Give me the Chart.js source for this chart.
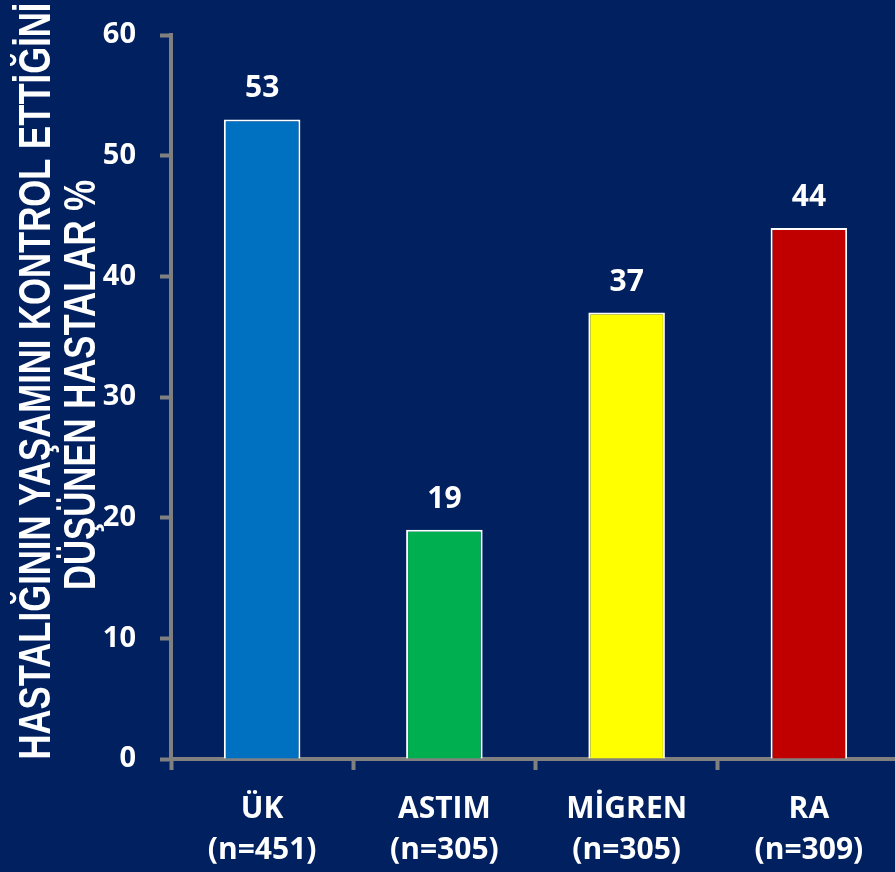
<!DOCTYPE html>
<html>
<head>
<meta charset="utf-8">
<script src="https://cdn.jsdelivr.net/npm/chart.js@4.4.0/dist/chart.umd.min.js"></script>
<style>
  html, body { margin: 0; padding: 0; background: #002060; overflow: hidden; width: 895px; height: 872px; }
  #wrap { position: absolute; left: 0; top: 0; width: 900px; height: 872px; }
</style>
</head>
<body>
<div id="wrap"><canvas id="c" width="900" height="872"></canvas></div>
<script>
const categories = ['ÜK', 'ASTIM', 'MİGREN', 'RA'];
const sampleSizes = ['(n=451)', '(n=305)', '(n=305)', '(n=309)'];
const values = [53, 19, 37, 44];
const barColors = ['#0070C0', '#00B050', '#FFFF00', '#C00000'];
const titleLines = ['HASTALIĞININ YAŞAMINI KONTROL ETTİĞİNİ', 'DÜŞÜNEN HASTALAR %'];

const FONT = "'Open Sans', 'Liberation Sans', sans-serif";
const AXIS_GRAY = '#808080';

const valueLabels = {
  id: 'valueLabels',
  afterDatasetsDraw(chart) {
    const ctx = chart.ctx;
    const meta = chart.getDatasetMeta(0);
    ctx.save();
    ctx.fillStyle = '#FFFFFF';
    ctx.font = "bold 30px " + FONT;
    ctx.textAlign = 'center';
    ctx.textBaseline = 'alphabetic';
    meta.data.forEach((bar, i) => {
      ctx.fillText(String(values[i]), bar.x, bar.y - 22);
    });
    ctx.restore();
  }
};

const yTitle = {
  id: 'yTitle',
  afterDraw(chart) {
    const ctx = chart.ctx;
    const specs = [
      { text: titleLines[0], x: 50, y: 381, len: 757 },
      { text: titleLines[1], x: 95, y: 385, len: 410 }
    ];
    ctx.save();
    ctx.fillStyle = '#FFFFFF';
    ctx.font = "bold 44px 'Liberation Sans Narrow', 'Liberation Sans', 'DejaVu Sans Condensed', sans-serif";
    ctx.textAlign = 'center';
    ctx.textBaseline = 'alphabetic';
    specs.forEach(s => {
      const w = ctx.measureText(s.text).width;
      ctx.save();
      ctx.translate(s.x, s.y);
      ctx.rotate(-Math.PI / 2);
      ctx.scale(s.len / w, 1);
      ctx.fillText(s.text, 0, 0);
      ctx.restore();
    });
    ctx.restore();
  }
};

new Chart(document.getElementById('c'), {
  type: 'bar',
  data: {
    labels: categories.map((c, i) => [c, sampleSizes[i]]),
    datasets: [{
      data: values,
      backgroundColor: barColors,
      borderColor: '#FFFFFF',
      borderWidth: 2,
      categoryPercentage: 1.0,
      barPercentage: 0.42
    }]
  },
  options: {
    responsive: false,
    animation: false,
    layout: { padding: { top: 35, right: 0, bottom: 0, left: 0 } },
    plugins: { legend: { display: false }, tooltip: { enabled: false } },
    scales: {
      x: {
        afterFit(scale) { scale.height = 113; scale.paddingLeft = 0; scale.paddingRight = 0; },
        border: { display: true, color: AXIS_GRAY, width: 4 },
        grid: { display: true, drawOnChartArea: false, drawTicks: true, tickLength: 11, tickColor: AXIS_GRAY, tickWidth: 4, offset: true },
        ticks: { color: '#FFFFFF', font: { family: FONT, size: 30, weight: 'bold', lineHeight: 1.37 }, padding: 19, maxRotation: 0 }
      },
      y: {
        min: 0, max: 60,
        afterFit(scale) { scale.width = 171; scale.paddingTop = 0; scale.paddingBottom = 0; },
        border: { display: true, color: AXIS_GRAY, width: 4 },
        grid: { display: true, drawOnChartArea: false, drawTicks: true, tickLength: 11, tickColor: AXIS_GRAY, tickWidth: 4 },
        ticks: { stepSize: 10, color: '#FFFFFF', font: { family: FONT, size: 29, weight: 'bold' }, padding: 24 }
      }
    }
  },
  plugins: [valueLabels, yTitle]
});
</script>
</body>
</html>
